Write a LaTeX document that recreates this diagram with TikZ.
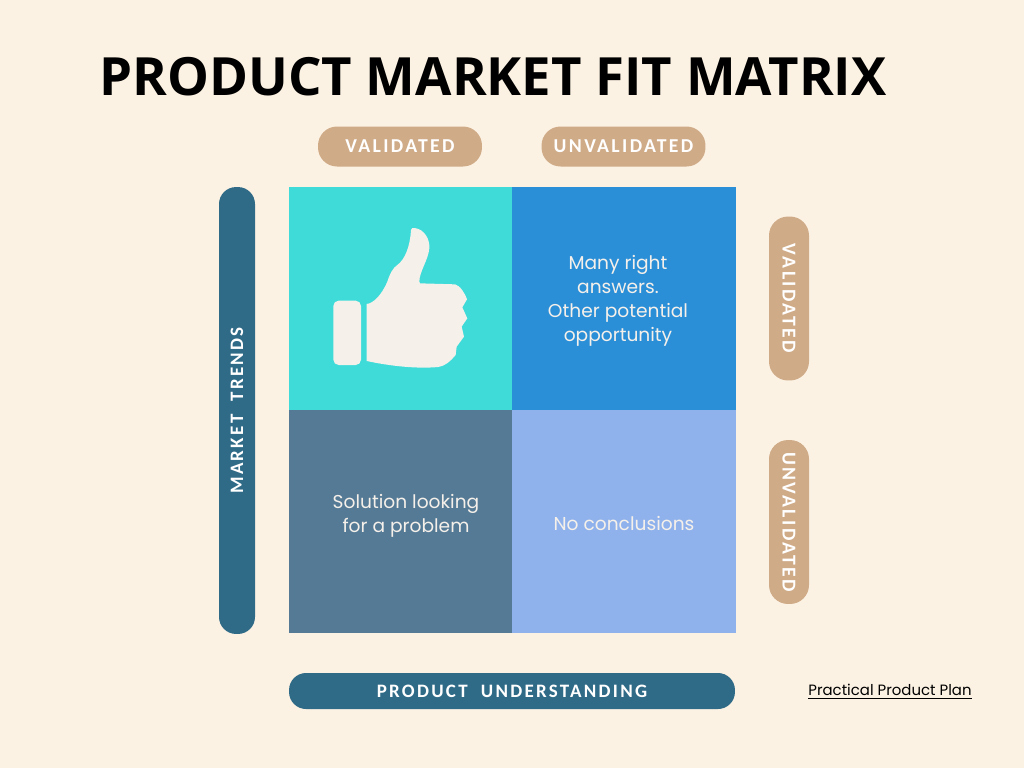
\documentclass[tikz,border=0pt]{standalone}
\usepackage{fontspec}
\setmainfont{Poppins}
\newfontfamily\titlefont{Open Sans}
\newfontfamily\pillfont[LetterSpace=12,WordSpace=2]{Carlito}
\usepackage{xcolor}
\usetikzlibrary{positioning}
\definecolor{pagecream}{HTML}{FCF2E3}
\definecolor{pilltan}{HTML}{CFAB88}
\definecolor{bardeep}{HTML}{2F6A87}
\definecolor{cellteal}{HTML}{3EDBD8}
\definecolor{cellblue}{HTML}{2B8FD8}
\definecolor{cellslate}{HTML}{557A95}
\definecolor{celllight}{HTML}{8FB2EC}
\definecolor{thumbwhite}{HTML}{F5F0EA}

\begin{document}
\begin{tikzpicture}[
  x=0.02cm, y=-0.02cm,
  cell/.style={rectangle, minimum width=4.48cm, minimum height=4.46cm, inner sep=0pt,
               align=center, text=thumbwhite, font=\fontsize{10.6}{13.6}\selectfont},
  pill/.style={rectangle, fill=pilltan, text=white, rounded corners=0.38cm, inner sep=0pt,
               minimum width=3.28cm, minimum height=0.8cm,
               font=\fontsize{11.2}{12}\pillfont\bfseries},
  bar/.style={rectangle, fill=bardeep, text=white, rounded corners=0.34cm, inner sep=0pt,
              minimum height=0.72cm, font=\fontsize{10.8}{12}\pillfont\bfseries}
]
\fill[pagecream] (0,0) rectangle (1024,768);
\useasboundingbox (0,0) rectangle (1024,768);
% heading
\node[font=\fontsize{30}{36}\titlefont\bfseries] (heading) at (493,77) {PRODUCT MARKET FIT MATRIX};
% top pills
\node[pill] (topval)   at (400,146.5) {VALIDATED};
\node[pill] (topunval) at (623.5,146.5) {UNVALIDATED};
% matrix cells
\node[cell, fill=cellteal]  (cellaa) at (401,298.5) {};
\node[cell, fill=cellblue]  (cellab) at (624,298.5) {};
\node[cell, fill=cellslate] (cellba) at (401,521.5) {};
\node[cell, fill=celllight] (cellbb) at (624,521.5) {};
\node[cell, minimum width=0pt, minimum height=0pt] (manytext) at (618,301) {Many right\\answers.\\Other potential\\opportunity};
\node[cell, minimum width=0pt, minimum height=0pt] (soltext)  at (406,516) {Solution looking\\for a problem};
\node[cell, minimum width=0pt, minimum height=0pt] (notext)   at (624,523) {No conclusions};
% thumb
\begin{scope}[shift={(310,210)}, x=0.00667cm, y=-0.00667cm]
  \fill[thumbwhite, rounded corners=3pt] (70,272) rectangle (153,465);
  \fill[thumbwhite] (170,282) .. controls (190,280) and (215,255) .. (232,215)
    .. controls (240,190) and (250,172) .. (262,165)
    .. controls (285,148) and (300,110) .. (303,60)
    .. controls (304,54) and (308,53) .. (314,54)
    .. controls (345,58) and (360,90) .. (358,115)
    .. controls (355,150) and (328,185) .. (328,215)
    -- (330,220) -- (435,223)
    .. controls (450,226) and (465,250) .. (471,268)
    -- (457,292) -- (472,325) -- (455,350) -- (462,380) -- (440,410) -- (437,435)
    .. controls (420,455) and (405,468) .. (385,471)
    .. controls (320,477) and (240,468) .. (170,453) -- cycle;
\end{scope}
% side pills and bars
\node[pill, rotate=-90] (sideval)   at (789,298.5) {VALIDATED};
\node[pill, rotate=-90] (sideunval) at (789,522) {UNVALIDATED};
\node[bar, rotate=90, minimum width=8.94cm] (trends) at (237,410.5) {MARKET TRENDS};
\node[bar, minimum width=8.92cm] (understanding) at (512,691) {PRODUCT UNDERSTANDING};
% source note
\node[font=\fontsize{8.5}{11}\selectfont, text=black] (source) at (890,692) {\underline{Practical Product Plan}};
\end{tikzpicture}
\end{document}
